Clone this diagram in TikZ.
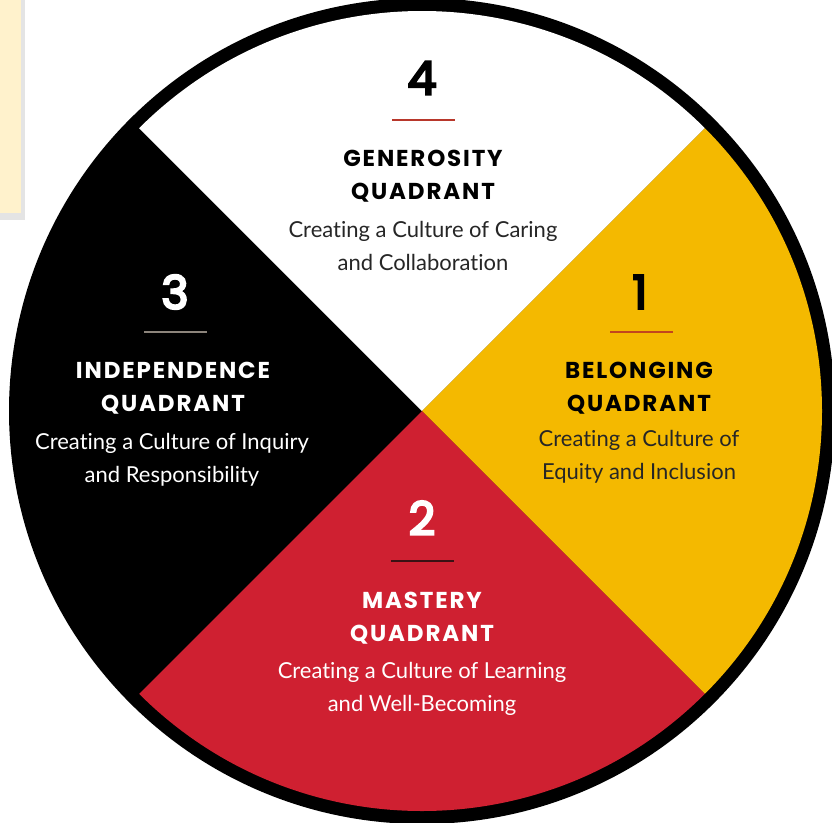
\documentclass[tikz,border=0pt]{standalone}
\usepackage{fontspec}
\usepackage{tikz}
\usetikzlibrary{positioning}
\newfontfamily\headfont{Poppins}[LetterSpace=8]
\newfontfamily\numfont{Poppins}[FakeBold=5]
\newfontfamily\bodyfont{Lato}[Ligatures={NoCommon}]
\definecolor{wheelyellow}{HTML}{F4B900}
\definecolor{wheelred}{HTML}{CF2031}
\definecolor{notecream}{HTML}{FFF2CC}
\definecolor{noteshadow}{HTML}{E4E4E4}
\definecolor{rulefour}{HTML}{B8372B}
\definecolor{rulethree}{HTML}{8C847B}
\definecolor{ruleone}{HTML}{C2451E}
\definecolor{ruletwo}{HTML}{3B1114}

\begin{document}
\begin{tikzpicture}[
    x=1pt, y=-1pt,
    num/.style={font=\numfont\fontsize{46}{46}\selectfont, inner sep=0pt},
    head/.style={font=\headfont\bfseries\fontsize{23}{32.5}\selectfont, align=center, inner sep=0pt},
    body/.style={font=\bodyfont\fontsize{22}{33}\selectfont, align=center, inner sep=0pt},
    underline/.style={minimum width=63pt, minimum height=2pt, inner sep=0pt, outer sep=0pt}
]
\useasboundingbox (0,0) rectangle (832,822);

% note card behind the wheel
\fill[noteshadow] (0,0) rectangle (25,220);
\fill[notecream] (0,0) rectangle (21,213);

% the wheel
\coordinate (c) at (422,411);
\fill[black] (c) circle (413);
\fill[white] (c) -- ++(225:400) arc[start angle=225, end angle=315, radius=400] -- cycle;
\fill[wheelyellow] (c) -- ++(-45:400) arc[start angle=-45, end angle=45, radius=400] -- cycle;
\fill[wheelred] (c) -- ++(45:400) arc[start angle=45, end angle=135, radius=400] -- cycle;

% 4 - generosity
\node[num, text=black] (n4) at (422,78) {4};
\node[underline, fill=rulefour] (u4) at (423,120) {};
\node[head, text=black] (h4) at (423,176) {GENEROSITY\\QUADRANT};
\node[body, text=black!85] (b4) at (423,246) {Creating a Culture of Caring\\and Collaboration};

% 3 - independence
\node[num, text=white] (n3) at (175,292) {3};
\node[underline, fill=rulethree] (u3) at (175,332) {};
\node[head, text=white] (h3) at (173,388) {INDEPENDENCE\\QUADRANT};
\node[body, text=white] (b3) at (172,460) {Creating a Culture of Inquiry\\and Responsibility};

% 1 - belonging
\node[num, text=black] (n1) at (640,292) {1};
\node[underline, fill=ruleone] (u1) at (641,332) {};
\node[head, text=black] (h1) at (639,388) {BELONGING\\QUADRANT};
\node[body, text=black!85] (b1) at (639,457) {Creating a Culture of\\Equity and Inclusion};

% 2 - mastery
\node[num, text=white] (n2) at (422,518) {2};
\node[underline, fill=ruletwo] (u2) at (422,561) {};
\node[head, text=white] (h2) at (422,618) {MASTERY\\QUADRANT};
\node[body, text=white] (b2) at (422,689) {Creating a Culture of Learning\\and Well-Becoming};
\end{tikzpicture}
\end{document}
